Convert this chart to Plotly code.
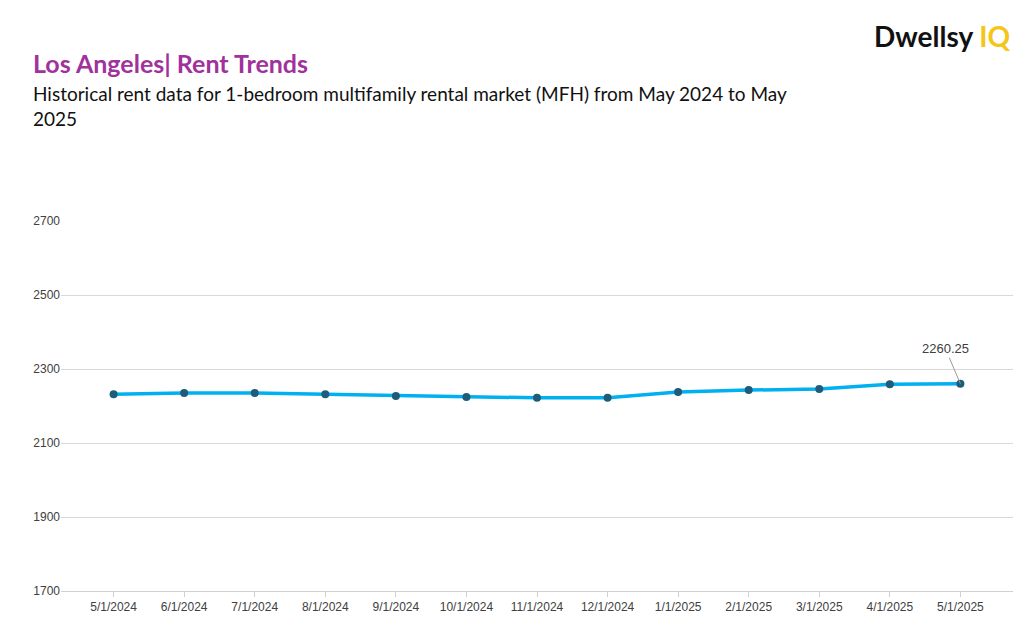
import plotly.graph_objects as go

dates = ["5/1/2024","6/1/2024","7/1/2024","8/1/2024","9/1/2024","10/1/2024","11/1/2024",
         "12/1/2024","1/1/2025","2/1/2025","3/1/2025","4/1/2025","5/1/2025"]
rent = [2232, 2235, 2235, 2232, 2227, 2224, 2222, 2222, 2238, 2243, 2246, 2259, 2260.25]
y_ticks = [1700, 1900, 2100, 2300, 2500, 2700]

fig = go.Figure(go.Scatter(
    x=dates, y=rent, mode="lines+markers",
    line=dict(color="#00B0F0", width=3.5),
    marker=dict(color="#1F5C7A", size=8),
    hoverinfo="skip"))

fig.add_annotation(x=dates[-1], y=rent[-1], text=f"{rent[-1]:.2f}", showarrow=True,
                   arrowhead=0, arrowcolor="#999", arrowwidth=1, ax=-15, ay=-35,
                   font=dict(family="Liberation Sans, Arial", size=13, color="#404040"))

fig.add_annotation(xref="paper", yref="paper", x=-0.031, y=1.427, xanchor="left", yanchor="middle",
                   showarrow=False, align="left",
                   text="<b>Los Angeles| Rent Trends</b>",
                   font=dict(family="Lato, Noto Sans", size=25, color="#A0329B"))
fig.add_annotation(xref="paper", yref="paper", x=-0.031, y=1.38, xanchor="left", yanchor="top",
                   showarrow=False, align="left",
                   text="Historical rent data for 1-bedroom multifamily rental market (MFH) from May 2024 to May<br>2025",
                   font=dict(family="Lato, Noto Sans", size=19, color="#111"))
fig.add_annotation(xref="paper", yref="paper", x=1.0, y=1.5, xanchor="right", yanchor="middle",
                   showarrow=False,
                   text="<b>Dwellsy <span style='color:#F5C518'>IQ</span></b>",
                   font=dict(family="Lato, Noto Sans", size=28, color="#111"))

fig.update_layout(
    width=1024, height=628, paper_bgcolor="white", plot_bgcolor="white",
    margin=dict(l=53, r=19, t=213, b=45), showlegend=False,
    xaxis=dict(type="category", showgrid=False, showline=True, linecolor="#d0d0d0",
               ticks="outside", ticklen=5, tickcolor="#d0d0d0",
               tickfont=dict(family="Liberation Sans, Arial", size=12, color="#404040")),
    yaxis=dict(range=[1700, 2700], tickvals=y_ticks, showgrid=True, gridcolor="#d9d9d9",
               zeroline=False, tickfont=dict(family="Liberation Sans, Arial", size=12, color="#404040")),
)
fig.write_html("out.html")
